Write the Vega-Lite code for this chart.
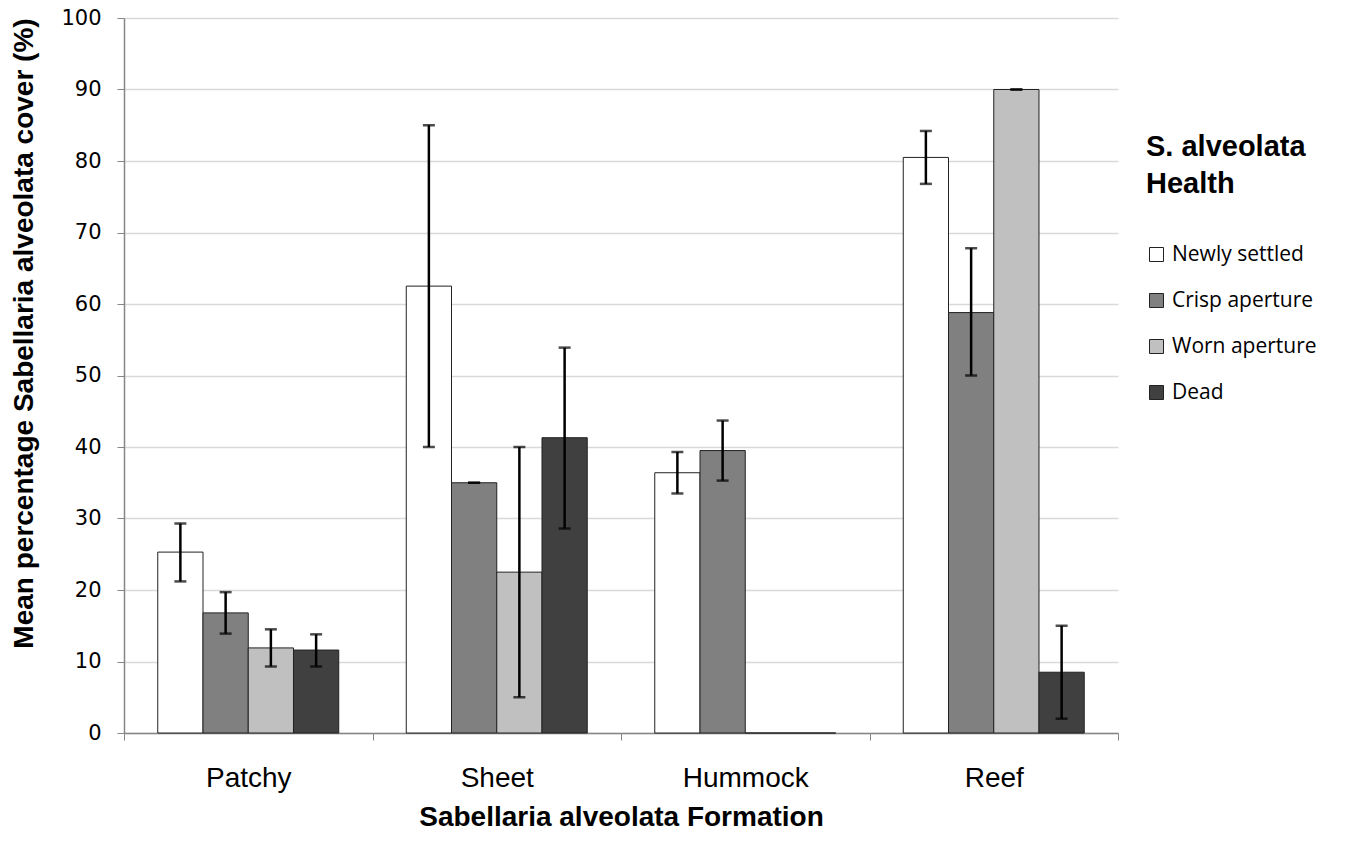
{
  "$schema": "https://vega.github.io/schema/vega-lite/v6.json",
  "width": 994,
  "height": 715,
  "autosize": {"type": "none"},
  "padding": {"left": 124, "top": 18, "right": 229, "bottom": 108},
  "background": "white",
  "config": {"view": {"stroke": null}},
  "data": {
    "values": [
      {"formation": "Patchy", "health": "Newly settled", "mean": 25.3, "lo": 21.2, "hi": 29.3},
      {"formation": "Patchy", "health": "Crisp aperture", "mean": 16.8, "lo": 13.9, "hi": 19.7},
      {"formation": "Patchy", "health": "Worn aperture", "mean": 11.9, "lo": 9.3, "hi": 14.5},
      {"formation": "Patchy", "health": "Dead", "mean": 11.6, "lo": 9.3, "hi": 13.8},
      {"formation": "Sheet", "health": "Newly settled", "mean": 62.5, "lo": 40.0, "hi": 85.0},
      {"formation": "Sheet", "health": "Crisp aperture", "mean": 35.0, "lo": 35.0, "hi": 35.0},
      {"formation": "Sheet", "health": "Worn aperture", "mean": 22.5, "lo": 5.0, "hi": 40.0},
      {"formation": "Sheet", "health": "Dead", "mean": 41.3, "lo": 28.6, "hi": 53.9},
      {"formation": "Hummock", "health": "Newly settled", "mean": 36.4, "lo": 33.5, "hi": 39.3},
      {"formation": "Hummock", "health": "Crisp aperture", "mean": 39.5, "lo": 35.3, "hi": 43.7},
      {"formation": "Hummock", "health": "Worn aperture", "mean": 0, "lo": null, "hi": null},
      {"formation": "Hummock", "health": "Dead", "mean": 0, "lo": null, "hi": null},
      {"formation": "Reef", "health": "Newly settled", "mean": 80.5, "lo": 76.8, "hi": 84.2},
      {"formation": "Reef", "health": "Crisp aperture", "mean": 58.8, "lo": 50.0, "hi": 67.8},
      {"formation": "Reef", "health": "Worn aperture", "mean": 90.0, "lo": 90.0, "hi": 90.0},
      {"formation": "Reef", "health": "Dead", "mean": 8.5, "lo": 2.0, "hi": 15.0}
    ]
  },
  "encoding": {
    "x": {
      "field": "formation",
      "type": "nominal",
      "sort": ["Patchy", "Sheet", "Hummock", "Reef"],
      "scale": {"paddingInner": 0, "paddingOuter": 0},
      "axis": {
        "title": "Sabellaria alveolata Formation",
        "titleFont": "Liberation Sans",
        "titleFontSize": 28,
        "titleFontWeight": "bold",
        "titleColor": "black",
        "titlePadding": 11,
        "labelFont": "Liberation Sans",
        "labelFontSize": 28,
        "labelColor": "black",
        "labelAngle": 0,
        "labelPadding": 24,
        "tickBand": "extent",
        "tickSize": 7,
        "tickColor": "#868686",
        "domainColor": "#868686",
        "domainWidth": 1.5,
        "grid": false
      }
    },
    "xOffset": {
      "field": "health",
      "type": "nominal",
      "scale": {"domain": ["Newly settled", "Crisp aperture", "Worn aperture", "Dead"], "paddingInner": 0, "paddingOuter": 0.746}
    }
  },
  "layer": [
    {
      "mark": {"type": "bar", "stroke": "#222222", "strokeWidth": 1},
      "encoding": {
        "y": {
          "field": "mean",
          "type": "quantitative",
          "scale": {"domain": [0, 100], "nice": false},
          "axis": {
            "title": "Mean percentage Sabellaria alveolata cover (%)",
            "titleFont": "Liberation Sans",
            "titleFontSize": 28,
            "titleFontWeight": "bold",
            "titleColor": "black",
            "titlePadding": 22,
            "titleY": 315,
            "values": [0, 10, 20, 30, 40, 50, 60, 70, 80, 90, 100],
            "labelFont": "DejaVu Sans",
            "labelFontSize": 21,
            "labelColor": "black",
            "labelPadding": 16,
            "tickSize": 7,
            "tickColor": "#868686",
            "domainColor": "#868686",
            "domainWidth": 1.5,
            "gridColor": "#d9d9d9",
            "gridWidth": 1.5
          }
        },
        "color": {
          "field": "health",
          "type": "nominal",
          "scale": {
            "domain": ["Newly settled", "Crisp aperture", "Worn aperture", "Dead"],
            "range": ["#ffffff", "#808080", "#c0c0c0", "#404040"]
          },
          "legend": {
            "title": ["S. alveolata", "Health"],
            "orient": "none",
            "legendX": 1022,
            "legendY": 115,
            "titleFont": "Liberation Sans",
            "titleFontSize": 29,
            "titleFontWeight": "bold",
            "titleColor": "black",
            "titleLineHeight": 37,
            "titlePadding": 45,
            "labelFont": "Open Sans",
            "labelFontSize": 21,
            "labelColor": "black",
            "labelOffset": 5,
            "symbolType": "square",
            "symbolSize": 196,
            "symbolStrokeColor": "#222222",
            "symbolStrokeWidth": 1,
            "symbolOpacity": 1,
            "rowPadding": 24
          }
        }
      }
    },
    {
      "mark": {"type": "rule", "color": "black", "strokeWidth": 2.5},
      "encoding": {
        "y": {"field": "lo", "type": "quantitative"},
        "y2": {"field": "hi"}
      }
    },
    {
      "mark": {"type": "tick", "color": "black", "thickness": 2.5, "size": 12},
      "encoding": {
        "y": {"field": "lo", "type": "quantitative"}
      }
    },
    {
      "mark": {"type": "tick", "color": "black", "thickness": 2.5, "size": 12},
      "encoding": {
        "y": {"field": "hi", "type": "quantitative"}
      }
    }
  ]
}
